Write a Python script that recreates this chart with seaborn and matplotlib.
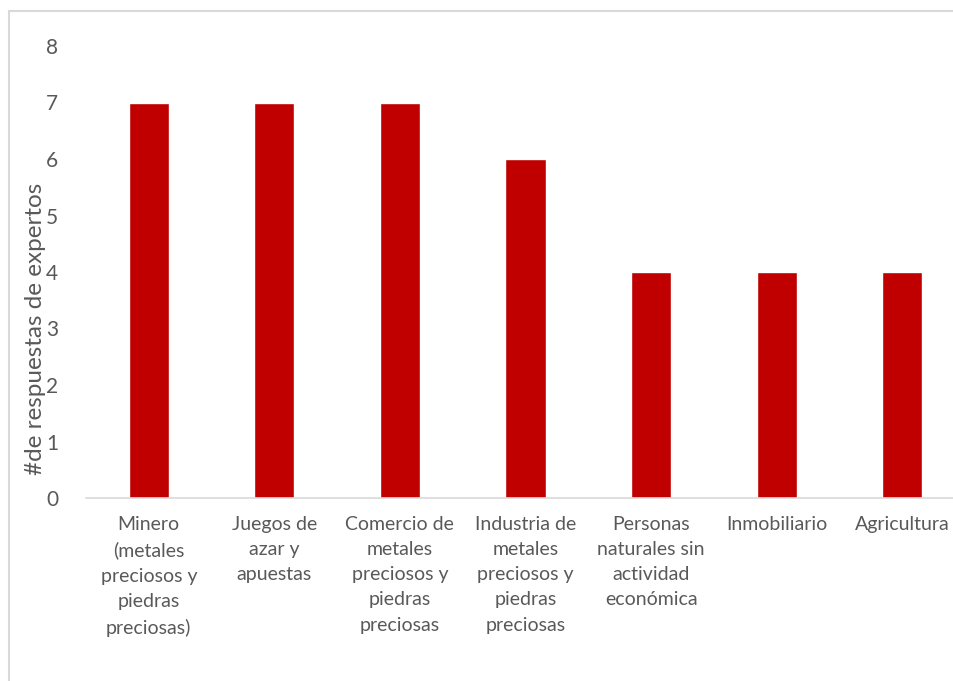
import matplotlib
matplotlib.use("Agg")
import matplotlib.pyplot as plt
from matplotlib.lines import Line2D
import seaborn as sns
import pandas as pd

categories = [
    "Minero\n(metales\npreciosos y\npiedras\npreciosas)",
    "Juegos de\nazar y\napuestas",
    "Comercio de\nmetales\npreciosos y\npiedras\npreciosas",
    "Industria de\nmetales\npreciosos y\npiedras\npreciosas",
    "Personas\nnaturales sin\nactividad\necon\u00f3mica",
    "Inmobiliario",
    "Agricultura",
]
respuestas = [7, 7, 7, 6, 4, 4, 4]
y_ticks = [0, 1, 2, 3, 4, 5, 6, 7, 8]

sns.set_theme(style="white")
plt.rcParams["font.family"] = ["Lato", "DejaVu Sans"]

W, H = 954, 681
fig = plt.figure(figsize=(W / 100, H / 100), dpi=100)
ax = fig.add_axes([86 / W, (H - 498) / H, (965 - 86) / W, (498 - 46) / H])

df = pd.DataFrame({"sector": categories, "n": respuestas})
sns.barplot(data=df, x="sector", y="n", color="#C00000", width=0.32,
            saturation=1, ax=ax)

text_col = "#595959"
ax.set_ylim(0, 8)
ax.set_yticks(y_ticks)
ax.set_yticklabels([str(t) for t in y_ticks], fontsize=15, color=text_col)
ax.tick_params(axis="y", length=0, pad=20)
ax.tick_params(axis="x", length=0, pad=13)
for lbl in ax.get_xticklabels():
    lbl.set_fontsize(14)
    lbl.set_color(text_col)
    lbl.set_linespacing(1.58)
ax.set_xlabel("")
ax.set_ylabel("#de respuestas de expertos", fontsize=17.5, color=text_col)
ax.yaxis.set_label_coords(-0.046, 0.375)

for s in ["top", "right", "left"]:
    ax.spines[s].set_visible(False)
ax.spines["bottom"].set_color("#d9d9d9")
ax.spines["bottom"].set_linewidth(1.2)

# chart frame
frame_col = "#d9d9d9"
fig.add_artist(Line2D([9.5 / W, 9.5 / W], [0, (H - 11) / H], color=frame_col,
                      lw=1.5, transform=fig.transFigure))
fig.add_artist(Line2D([9.5 / W, 1], [(H - 11) / H, (H - 11) / H], color=frame_col,
                      lw=1.5, transform=fig.transFigure))

fig.savefig("out.png", dpi=100)
